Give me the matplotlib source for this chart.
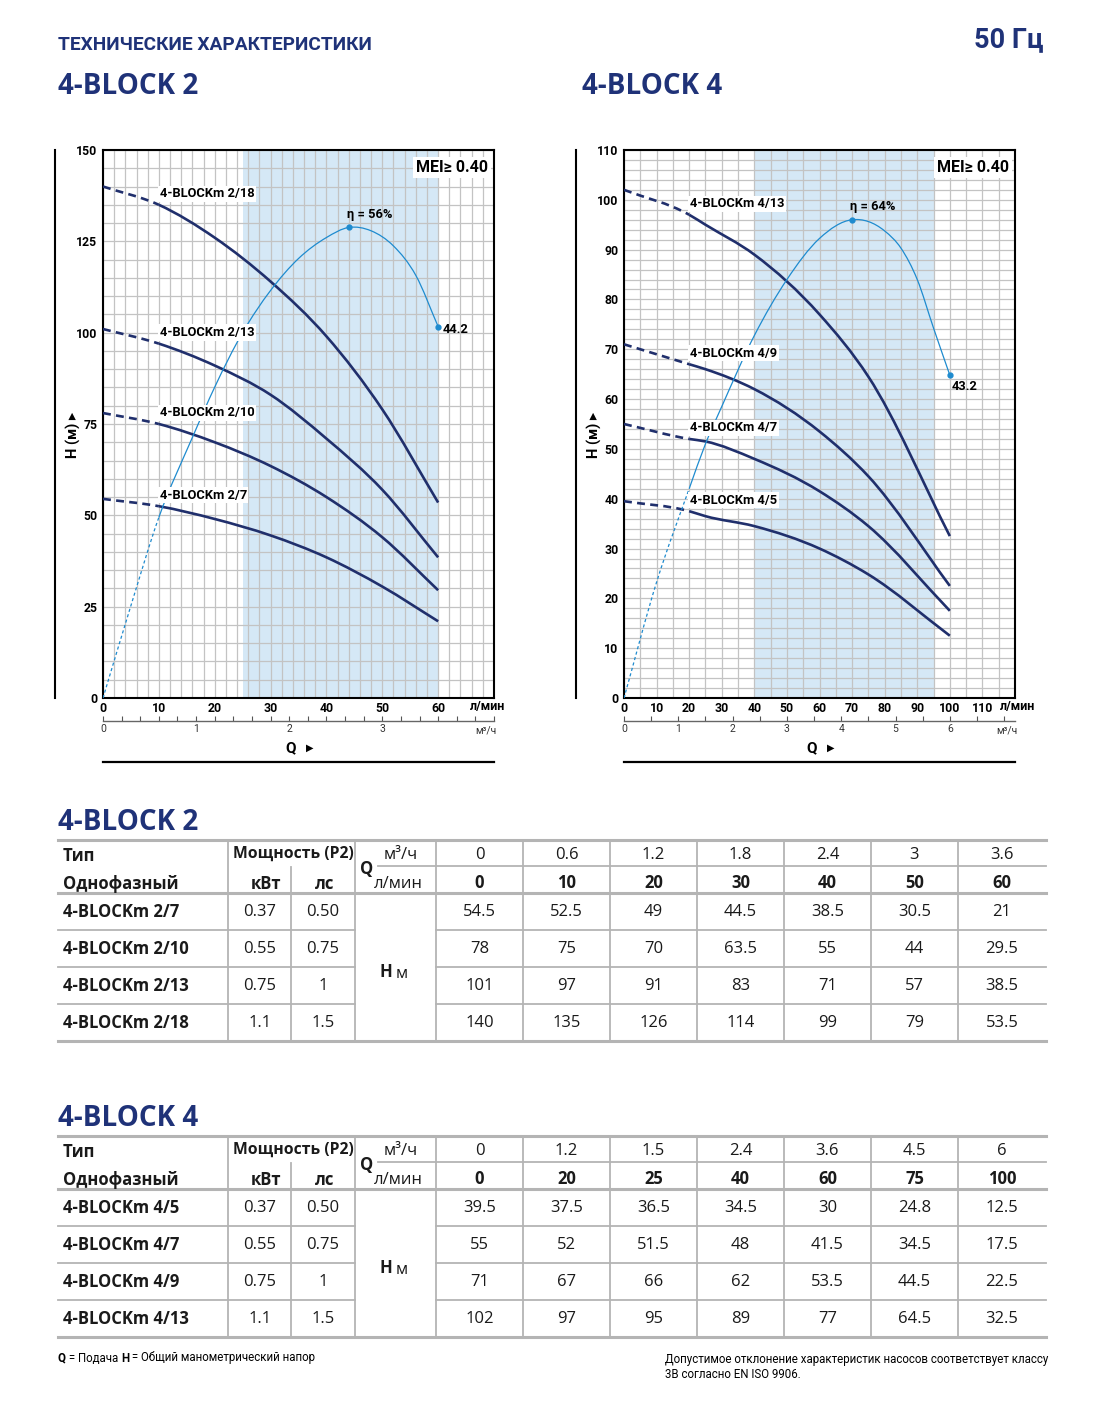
import numpy as np
import matplotlib
matplotlib.use("Agg")
import matplotlib.pyplot as plt
from matplotlib import font_manager
from matplotlib.lines import Line2D
from matplotlib.path import Path
from matplotlib.patches import PathPatch
from matplotlib.text import Annotation

W, H = 1106, 1408

installed = {f.name for f in font_manager.fontManager.ttflist}
NARROW = "Liberation Sans Narrow" if "Liberation Sans Narrow" in installed else "Roboto"
BODY = "Open Sans"
plt.rcParams["font.family"] = [NARROW, "DejaVu Sans"]

NAVY = "#1f3278"
CURVE = "#202f6c"
EFF = "#1e8bcf"
SHADE = "#d5e8f6"
GRID = "#c3c3c3"
RULE = "#b4b4b4"

# ---- 4-BLOCK 2 ----
q2_lmin = [0, 10, 20, 30, 40, 50, 60]
q2_m3h = [0, 0.6, 1.2, 1.8, 2.4, 3, 3.6]
models2 = ["4-BLOCKm 2/7", "4-BLOCKm 2/10", "4-BLOCKm 2/13", "4-BLOCKm 2/18"]
kw2 = ["0.37", "0.55", "0.75", "1.1"]
hp2 = ["0.50", "0.75", "1", "1.5"]
h2 = [[54.5, 52.5, 49, 44.5, 38.5, 30.5, 21],
      [78, 75, 70, 63.5, 55, 44, 29.5],
      [101, 97, 91, 83, 71, 57, 38.5],
      [140, 135, 126, 114, 99, 79, 53.5]]
eff2_q = [0, 5, 10, 16, 20, 25, 30, 35, 40, 44, 48, 52, 56, 60]
eff2 = [0, 11, 21.5, 31, 37, 43.5, 48.5, 52.3, 54.8, 56, 55.6, 53.8, 50.3, 44.2]

# ---- 4-BLOCK 4 ----
q4_lmin = [0, 20, 25, 40, 60, 75, 100]
q4_m3h = [0, 1.2, 1.5, 2.4, 3.6, 4.5, 6]
models4 = ["4-BLOCKm 4/5", "4-BLOCKm 4/7", "4-BLOCKm 4/9", "4-BLOCKm 4/13"]
kw4 = ["0.37", "0.55", "0.75", "1.1"]
hp4 = ["0.50", "0.75", "1", "1.5"]
h4 = [[39.5, 37.5, 36.5, 34.5, 30, 24.8, 12.5],
      [55, 52, 51.5, 48, 41.5, 34.5, 17.5],
      [71, 67, 66, 62, 53.5, 44.5, 22.5],
      [102, 97, 95, 89, 77, 64.5, 32.5]]
eff4_q = [0, 10, 20, 25, 30, 40, 50, 60, 70, 80, 85, 90, 95, 100]
eff4 = [0, 15.5, 28, 34, 39, 48.5, 56, 61.5, 64, 62.5, 60.2, 56, 49.5, 43.2]

fig = plt.figure(figsize=(W / 100, H / 100), dpi=100)


def fx(x):
    return x / W


def fy(y):
    return 1 - y / H


def hline(y, x0, x1, lw=1.3, color=RULE):
    fig.add_artist(Line2D([fx(x0), fx(x1)], [fy(y), fy(y)], lw=lw, color=color,
                          transform=fig.transFigure))


def vline(x, y0, y1, lw=1.3, color=RULE):
    fig.add_artist(Line2D([fx(x), fx(x)], [fy(y0), fy(y1)], lw=lw, color=color,
                          transform=fig.transFigure))


def smooth(ax, xs, ys, i0, i1, **kw):
    # cubic hermite bezier through the points i0..i1
    x = np.asarray(xs, float)
    y = np.asarray(ys, float)
    n = len(x)
    h = np.diff(x)
    d = np.diff(y) / h
    m = np.empty(n)
    m[0], m[-1] = d[0], d[-1]
    for i in range(1, n - 1):
        m[i] = (h[i - 1] * d[i] + h[i] * d[i - 1]) / (h[i - 1] + h[i])
    verts = [(x[i0], y[i0])]
    codes = [Path.MOVETO]
    for i in range(i0, i1):
        s = h[i] / 3
        verts += [(x[i] + s, y[i] + m[i] * s),
                  (x[i + 1] - s, y[i + 1] - m[i + 1] * s),
                  (x[i + 1], y[i + 1])]
        codes += [Path.CURVE4] * 3
    ax.add_patch(PathPatch(Path(verts, codes), fill=False, capstyle="butt", **kw))


def chart(x0, q, heads, models, eff_q, eff, eff_scale, xmax, xlast, ymax, ystep,
          vgrid, hgrid, band):
    ax = fig.add_axes([fx(x0), fy(698), 391 / W, 548 / H])
    ax.set_xlim(0, xmax)
    ax.set_ylim(0, ymax)
    ax.axvspan(band[0], band[1], color=SHADE, lw=0, zorder=0.2)
    ax.set_xticks(np.arange(0, xlast + 1, 10))
    ax.set_xticks(np.arange(0, xmax + 0.1, vgrid), minor=True)
    ax.set_yticks(np.arange(0, ymax + 1, ystep))
    ax.set_yticks(np.arange(0, ymax + 0.1, hgrid), minor=True)
    ax.set_axisbelow(True)
    ax.grid(which="both", color=GRID, lw=0.9)
    ax.tick_params(which="both", length=0)
    ax.tick_params(axis="x", pad=3, labelsize=8.8)
    ax.tick_params(axis="y", pad=4, labelsize=8.8)
    for lab in ax.get_xticklabels() + ax.get_yticklabels():
        lab.set_fontweight("bold")
    for s in ax.spines.values():
        s.set_linewidth(1.5)
        s.set_color("black")

    # pump curves: dashed up to the first duty point, solid after
    for hs, name in zip(heads, models):
        smooth(ax, q, hs, 0, 1, ec=CURVE, lw=1.9, ls=(0, (3, 2)), zorder=3)
        smooth(ax, q, hs, 1, len(q) - 1, ec=CURVE, lw=1.9, zorder=3)
        ax.annotate(name, (q[1], hs[1]), xytext=(0.5, 8), textcoords="offset points",
                    ha="left", va="center", fontsize=9.3, fontweight="bold", zorder=5,
                    bbox=dict(boxstyle="square,pad=0.12", fc="white", ec="none"))

    # efficiency curve drawn on the head scale
    e = np.array(eff) * eff_scale
    k = eff_q.index(q[1])
    smooth(ax, eff_q, e, 0, k, ec=EFF, lw=0.9, ls=(0, (2.5, 2)), zorder=4)
    smooth(ax, eff_q, e, k, len(eff_q) - 1, ec=EFF, lw=0.9, zorder=4)
    ip = int(np.argmax(eff))
    ax.plot([eff_q[ip], eff_q[-1]], [e[ip], e[-1]], "o", color=EFF, ms=3.5, zorder=5)
    ax.annotate("η = {:g}%".format(eff[ip]), (eff_q[ip], e[ip]), xytext=(15, 9.5),
                textcoords="offset points", ha="center", va="center", fontsize=9.3,
                fontweight="bold")
    return ax, e


ax2, e2 = chart(103, q2_lmin, h2, models2, eff2_q, eff2, 2.3,
                70, 60, 150, 25, 2, 5, (25, 60))
ax4, e4 = chart(624, q4_lmin, h4, models4, eff4_q, eff4, 1.5,
                120, 110, 110, 10, 5, 2, (40, 95))

ax2.annotate("{:g}".format(eff2[-1]), (eff2_q[-1], e2[-1]), xytext=(3.5, -2),
             textcoords="offset points", ha="left", va="center", fontsize=9.3,
             fontweight="bold")
ax4.annotate("{:g}".format(eff4[-1]), (eff4_q[-1], e4[-1]), xytext=(1.5, -8.5),
             textcoords="offset points", ha="left", va="center", fontsize=9.3,
             fontweight="bold")

for ax, x0, m3_minor, m3_last, unit_x in [(ax2, 103, 0.2, 3, 488), (ax4, 624, 0.5, 6, 1018)]:
    xmax = ax.get_xlim()[1]
    sec = ax.secondary_xaxis(-23 / 548, functions=(lambda v: v * 0.06, lambda v: v / 0.06))
    sec.set_xticks(np.arange(0, m3_last + 1, 1))
    sec.set_xticks(np.arange(0, xmax * 0.06 + 1e-6, m3_minor), minor=True)
    sec.tick_params(which="both", direction="in", length=3.5, width=0.8, color="#555555",
                    labelsize=7.5, pad=2, labelcolor="#333333")
    sec.spines["bottom"].set_color("#666666")
    sec.spines["bottom"].set_linewidth(1.0)
    ax.text(fx(unit_x), fy(707), "л/мин", transform=fig.transFigure, ha="center",
            va="center", fontsize=9, fontweight="bold")
    fig.text(fx(x0 + 383), fy(731), "м³/ч", ha="center", va="center", fontsize=7.5,
             color="#333333")
    fig.text(fx(x0 + 188), fy(748), "Q", ha="center", va="center", fontsize=11,
             fontweight="bold")
    fig.text(fx(x0 + 207), fy(748), "▶", ha="center", va="center", fontsize=7,
             family=["DejaVu Sans"])
    hline(762, x0, x0 + 391, lw=1.6, color="black")
    vline(x0 - 48, 150, 698, lw=1.5, color="black")
    fig.text(fx(x0 - 30), fy(435), "H (м) ▸", rotation=90, ha="center", va="center",
             fontsize=10.5, fontweight="bold")
    ax.text(0.985, 0.982, "MEI≥ 0.40", transform=ax.transAxes, ha="right", va="top",
            fontsize=11.5, fontweight="bold", zorder=6,
            bbox=dict(boxstyle="square,pad=0.2", fc="white", ec="none"))

# ---- headings ----
fig.text(fx(58), fy(45), "ТЕХНИЧЕСКИЕ ХАРАКТЕРИСТИКИ", ha="left", va="center",
         fontsize=13.8, fontweight="bold", color=NAVY)
fig.text(fx(1043), fy(40), "50 Гц", ha="right", va="center", fontsize=19.5,
         fontweight="bold", color=NAVY)
fig.text(fx(58), fy(87), "4-BLOCK 2", ha="left", va="center", fontsize=20,
         fontweight="bold", color=NAVY, family=[BODY])
fig.text(fx(582), fy(87), "4-BLOCK 4", ha="left", va="center", fontsize=20,
         fontweight="bold", color=NAVY, family=[BODY])


def table(top, title, q_m3h, q_lmin, models, kw, hp, heads):
    cols = [436, 523, 610, 697, 784, 871, 958, 1046]
    centers = [(a + b) / 2 for a, b in zip(cols[:-1], cols[1:])]
    fig.text(fx(58), fy(top - 18), title, ha="left", va="center", fontsize=20,
             fontweight="bold", color=NAVY, family=[BODY])
    bottom = top + 201
    hline(top, 58, 1046, lw=2.2)
    hline(top + 26, 378, 1046)
    hline(top + 53, 58, 1046, lw=2.2)
    for r in range(1, 4):
        y = top + 53 + 37 * r
        hline(y, 58, 355)
        hline(y, 436, 1046)
    hline(bottom, 58, 1046, lw=2.2)
    vline(228, top, bottom)
    vline(291, top + 27, bottom)
    vline(355, top, bottom)
    for x in cols[:-1]:
        vline(x, top, bottom)

    t = dict(ha="center", va="center", fontsize=12, family=[BODY], color="#1a1a1a")
    left = {**t, "ha": "left"}
    fig.text(fx(63), fy(top + 16), "Тип", **left, fontweight="bold")
    fig.text(fx(63), fy(top + 44), "Однофазный", **left, fontweight="bold")
    fig.text(fx(293), fy(top + 14), "Мощность (P2)", **{**t, "fontsize": 11.3},
             fontweight="bold")
    fig.text(fx(266), fy(top + 44), "кВт", **t, fontweight="bold")
    fig.text(fx(325), fy(top + 44), "лс", **t, fontweight="bold")
    fig.text(fx(367), fy(top + 29), "Q", **t, fontweight="bold")
    fig.text(fx(401), fy(top + 15), "м³/ч", **t)
    fig.text(fx(398), fy(top + 44), "л/мин", **t)
    for c, a, b in zip(centers, q_m3h, q_lmin):
        fig.text(fx(c), fy(top + 15), "{:g}".format(a), **t)
        fig.text(fx(c), fy(top + 43), "{:g}".format(b), **t, fontweight="bold")
    for r, (name, p1, p2, hs) in enumerate(zip(models, kw, hp, heads)):
        y = top + 72 + 37 * r
        fig.text(fx(63), fy(y), name, **left, fontweight="bold")
        fig.text(fx(260), fy(y), p1, **t)
        fig.text(fx(323), fy(y), p2, **t)
        for c, v in zip(centers, hs):
            fig.text(fx(c), fy(y), "{:g}".format(v), **t)
    fig.text(fx(386), fy(top + 132), "H", **t, fontweight="bold")
    fig.text(fx(402), fy(top + 134), "м", **t)


table(840, "4-BLOCK 2", q2_m3h, q2_lmin, models2, kw2, hp2, h2)
table(1136, "4-BLOCK 4", q4_m3h, q4_lmin, models4, kw4, hp4, h4)

# ---- footer ----
parts = [("Q", "bold"), (" = Подача ", "normal"), ("H", "bold"),
         (" = Общий манометрический напор", "normal")]
prev = fig.text(fx(58), fy(1358), parts[0][0], ha="left", va="center", fontsize=8.3,
                fontweight=parts[0][1])
for s, w in parts[1:]:
    prev = fig.add_artist(Annotation(s, xy=(1, 0.5), xycoords=prev, ha="left", va="center",
                                     fontsize=8.3, fontweight=w))
fig.text(fx(665), fy(1360), "Допустимое отклонение характеристик насосов соответствует классу",
         ha="left", va="center", fontsize=8.3)
fig.text(fx(665), fy(1375), "3B согласно EN ISO 9906.", ha="left", va="center", fontsize=8.3)

fig.savefig("out.png", dpi=100)
